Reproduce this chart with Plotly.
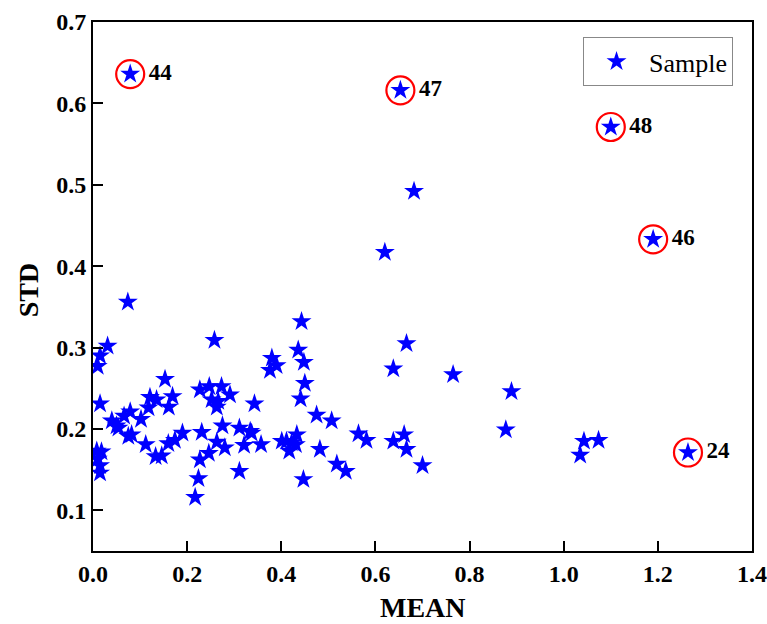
import plotly.graph_objects as go

# Sample points (MEAN, STD)
mean_vals = [
    0.031, 0.015, 0.010, 0.258, 0.015, 0.153, 0.121, 0.135, 0.169, 0.118,
    0.161, 0.227, 0.247, 0.273, 0.291, 0.252, 0.266, 0.263, 0.343, 0.040,
    0.050, 0.054, 0.066, 0.079, 0.102, 0.075, 0.082, 0.112, 0.133, 0.146,
    0.160, 0.174, 0.190, 0.231, 0.275, 0.311, 0.334, 0.337, 0.357, 0.263,
    0.280, 0.246, 0.227, 0.224, 0.217, 0.311, 0.321, 0.008, 0.018, 0.010,
    0.015, 0.015,
    0.443, 0.666, 0.436, 0.380, 0.390, 0.376, 0.448, 0.638, 0.450, 0.441,
    0.475, 0.507, 0.401, 0.411, 0.422, 0.433, 0.431, 0.417, 0.482, 0.447,
    0.518, 0.537, 0.564, 0.581, 0.638, 0.661, 0.666, 0.700,
    0.765, 0.889, 0.877, 1.043, 1.074, 1.035,
    0.620, 0.682, 0.074,
]
std_vals = [
    0.302, 0.290, 0.277, 0.309, 0.231, 0.261, 0.239, 0.236, 0.240, 0.226,
    0.227, 0.248, 0.252, 0.252, 0.242, 0.236, 0.234, 0.227, 0.231, 0.210,
    0.204, 0.201, 0.216, 0.221, 0.212, 0.191, 0.193, 0.181, 0.166, 0.167,
    0.182, 0.186, 0.195, 0.196, 0.204, 0.201, 0.197, 0.195, 0.181, 0.184,
    0.177, 0.170, 0.162, 0.139, 0.116, 0.148, 0.180, 0.173, 0.172, 0.163,
    0.155, 0.146,
    0.332, 0.305, 0.297, 0.287, 0.278, 0.272, 0.282, 0.274, 0.256, 0.237,
    0.217, 0.210, 0.185, 0.185, 0.183, 0.193, 0.181, 0.173, 0.175, 0.138,
    0.157, 0.148, 0.194, 0.186, 0.185, 0.193, 0.175, 0.155,
    0.267, 0.246, 0.199, 0.185, 0.186, 0.168,
    0.417, 0.492, 0.356,
]

# Highlighted outliers
outlier_labels = ["44", "47", "48", "46", "24"]
outlier_mean = [0.079, 0.653, 1.100, 1.190, 1.264]
outlier_std = [0.636, 0.616, 0.571, 0.433, 0.171]

x_ticks = [0.0, 0.2, 0.4, 0.6, 0.8, 1.0, 1.2, 1.4]
y_ticks = [0.1, 0.2, 0.3, 0.4, 0.5, 0.6, 0.7]

FONT = "Liberation Serif, Times New Roman, serif"

fig = go.Figure()
fig.add_trace(go.Scatter(
    x=mean_vals + outlier_mean, y=std_vals + outlier_std,
    mode="markers", name="Sample",
    marker=dict(symbol="star", size=15, color="#0000ff", line=dict(width=0)),
))
fig.add_trace(go.Scatter(
    x=outlier_mean, y=outlier_std, mode="markers+text",
    text=outlier_labels, textposition="middle right",
    textfont=dict(family=FONT, size=23, color="black", weight="bold"),
    marker=dict(symbol="circle-open", size=28, color="red", line=dict(width=2.2, color="red")),
    showlegend=False, hoverinfo="skip",
))

axis_common = dict(
    showline=True, linecolor="black", linewidth=2, mirror=True,
    ticks="inside", ticklen=10, tickwidth=2, tickcolor="black",
    showgrid=False, zeroline=False, automargin=False,
    tickfont=dict(family=FONT, size=24, color="black", weight="bold"),
)

fig.update_layout(
    width=767, height=624,
    margin=dict(l=93, r=15, t=22, b=73),
    paper_bgcolor="white", plot_bgcolor="white",
    xaxis=dict(range=[0, 1.4], tickvals=x_ticks, ticktext=[f"{v:.1f}" for v in x_ticks],
               **axis_common),
    yaxis=dict(range=[0.05, 0.7], tickvals=y_ticks, ticktext=[f"{v:.1f}" for v in y_ticks],
               **axis_common),
    legend=dict(x=0.7436, y=0.9716, xanchor="left", yanchor="top",
                bordercolor="#888888", borderwidth=1, bgcolor="white",
                font=dict(family=FONT, size=26, color="black"), itemwidth=55,
                tracegroupgap=0),
    showlegend=True,
    annotations=[
        dict(text="MEAN", xref="paper", yref="paper", x=0.5, y=-0.106,
             xanchor="center", yanchor="middle", showarrow=False,
             font=dict(family=FONT, size=28, color="black", weight="bold")),
        dict(text="STD", xref="paper", yref="paper", x=-0.0986, y=0.493,
             xanchor="center", yanchor="middle", showarrow=False, textangle=-90,
             font=dict(family=FONT, size=28, color="black", weight="bold")),
    ],
)

fig.write_html("out.html", config={"displayModeBar": False},
               post_script="document.body.style.margin='0';document.body.style.padding='0';")
